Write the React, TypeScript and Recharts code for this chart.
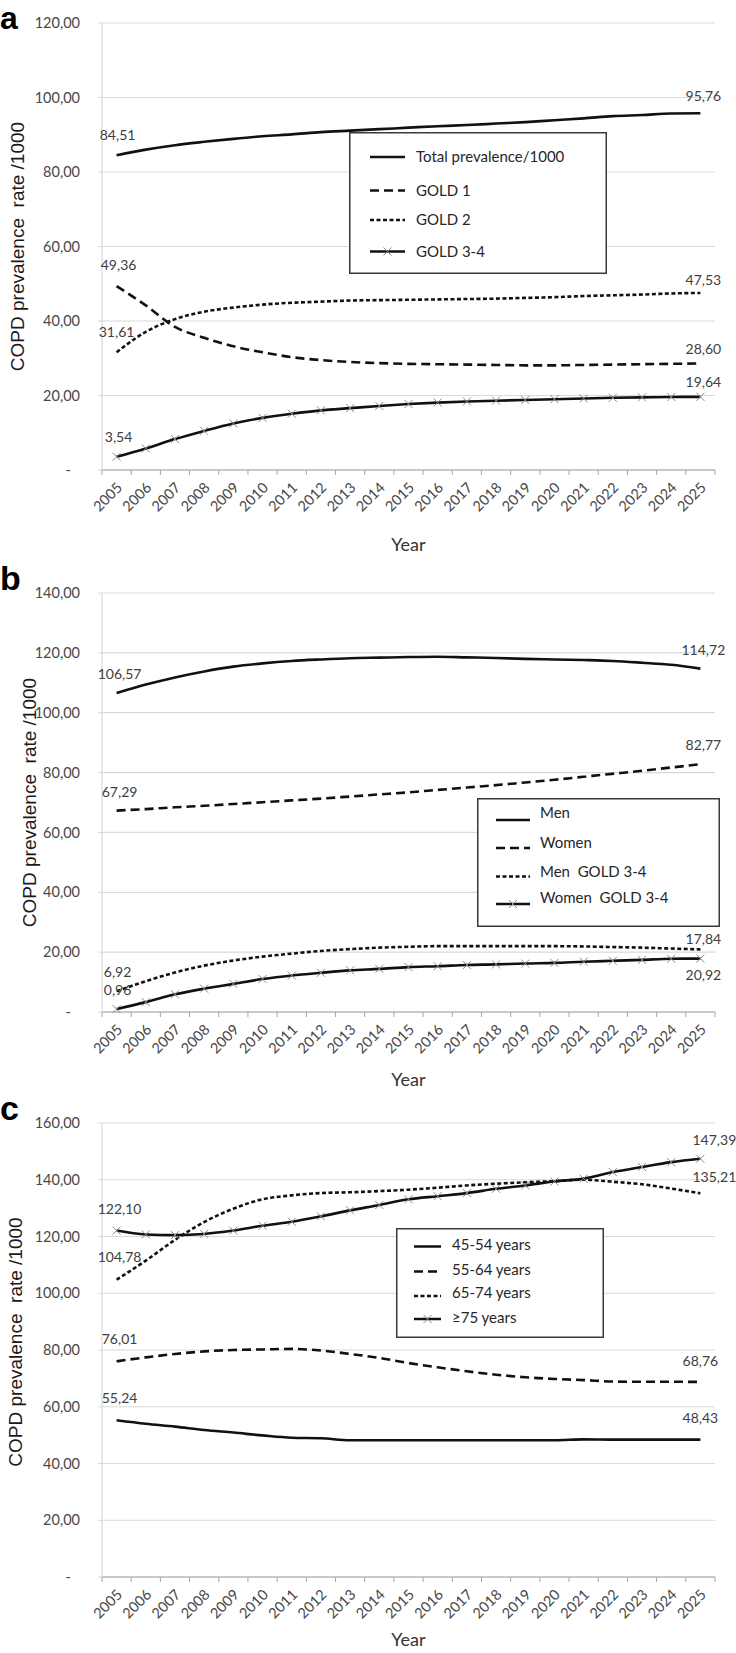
import React from 'react';
import { LineChart, Line, XAxis, YAxis, CartesianGrid, Legend, LabelList } from 'recharts';

// ---------- data ----------
const years = [2005, 2006, 2007, 2008, 2009, 2010, 2011, 2012, 2013, 2014, 2015, 2016, 2017, 2018, 2019, 2020, 2021, 2022, 2023, 2024, 2025];

// panel a
const totalPrevalence = [84.51, 86.0, 87.2, 88.1, 88.9, 89.6, 90.1, 90.7, 91.1, 91.5, 91.9, 92.3, 92.6, 93.0, 93.4, 93.9, 94.4, 95.0, 95.3, 95.7, 95.76];
const gold1 = [49.36, 44.2, 38.4, 35.5, 33.2, 31.6, 30.3, 29.5, 29.0, 28.7, 28.5, 28.4, 28.3, 28.2, 28.1, 28.1, 28.2, 28.3, 28.4, 28.5, 28.6];
const gold2 = [31.61, 37.1, 40.5, 42.5, 43.6, 44.4, 44.9, 45.2, 45.5, 45.6, 45.7, 45.8, 45.9, 46.0, 46.2, 46.4, 46.7, 46.9, 47.1, 47.4, 47.53];
const gold34 = [3.54, 5.8, 8.3, 10.5, 12.5, 14.0, 15.1, 16.0, 16.6, 17.2, 17.7, 18.1, 18.4, 18.6, 18.8, 19.0, 19.2, 19.4, 19.5, 19.6, 19.64];

// panel b
const men = [106.57, 109.4, 111.8, 113.8, 115.4, 116.5, 117.3, 117.8, 118.2, 118.4, 118.6, 118.7, 118.5, 118.3, 118.0, 117.8, 117.6, 117.3, 116.7, 116.0, 114.72];
const women = [67.29, 67.8, 68.4, 68.9, 69.5, 70.1, 70.7, 71.3, 72.0, 72.7, 73.4, 74.2, 75.0, 75.8, 76.7, 77.6, 78.6, 79.6, 80.6, 81.7, 82.77];
const menGold34 = [6.92, 10.3, 13.2, 15.5, 17.2, 18.5, 19.5, 20.4, 21.0, 21.5, 21.8, 22.0, 22.0, 22.0, 22.0, 22.0, 21.9, 21.7, 21.5, 21.2, 20.92];
const womenGold34 = [0.96, 3.3, 5.9, 7.8, 9.4, 11.0, 12.2, 13.1, 13.9, 14.4, 15.0, 15.3, 15.7, 15.9, 16.2, 16.4, 16.8, 17.1, 17.4, 17.8, 17.84];

// panel c
const age4554 = [55.24, 54.0, 53.0, 51.8, 50.9, 49.9, 49.1, 48.9, 48.2, 48.2, 48.2, 48.2, 48.2, 48.2, 48.2, 48.2, 48.5, 48.4, 48.4, 48.4, 48.43];
const age5564 = [76.01, 77.4, 78.6, 79.5, 80.0, 80.2, 80.4, 79.8, 78.6, 77.2, 75.4, 73.9, 72.5, 71.3, 70.4, 69.8, 69.4, 68.9, 68.8, 68.8, 68.76];
const age6574 = [104.78, 111.5, 118.8, 125.1, 129.8, 133.1, 134.5, 135.3, 135.6, 136.0, 136.5, 137.2, 138.0, 138.6, 139.1, 139.5, 140.0, 139.3, 138.4, 136.9, 135.21];
const age75 = [122.1, 120.7, 120.5, 120.9, 122.1, 123.8, 125.2, 127.1, 129.2, 131.1, 133.1, 134.2, 135.3, 136.8, 138.0, 139.4, 140.4, 142.7, 144.5, 146.2, 147.39];

// tick values
const yTicksA = [0, 20, 40, 60, 80, 100, 120];
const yTicksB = [0, 20, 40, 60, 80, 100, 120, 140];
const yTicksC = [0, 20, 40, 60, 80, 100, 120, 140, 160];
const yearBoundaries = [...years.map((y) => y - 0.5), years[years.length - 1] + 0.5];
const xTicks = [...yearBoundaries, ...years].sort((a, b) => a - b);

// ---------- styling ----------
const FONT = "Lato, 'Open Sans', sans-serif";
const TITLE_FONT = "'Liberation Sans', Arial, sans-serif";
const INK = '#111111';
const GRID = '#d9d9d9';
const LONG_DASH = '9 5';
const SHORT_DASH = '4 2.5';

const fmt = (v: number) => (v === 0 ? '-' : v.toFixed(2).replace('.', ','));

type Series = {
  key: string;
  name: string;
  values: number[];
  dash?: string;
  marker?: boolean;
  first: [number, number];
  last: [number, number];
};

const seriesA: Series[] = [
  { key: 'total', name: 'Total prevalence/1000', values: totalPrevalence, first: [1, -20], last: [3, -17] },
  { key: 'g1', name: 'GOLD 1', values: gold1, dash: LONG_DASH, first: [2, -21], last: [3, -14] },
  { key: 'g2', name: 'GOLD 2', values: gold2, dash: SHORT_DASH, first: [0, -20], last: [3, -13] },
  { key: 'g34', name: 'GOLD 3-4', values: gold34, marker: true, first: [2, -20], last: [3, -15] },
];
const seriesB: Series[] = [
  { key: 'men', name: 'Men', values: men, first: [3, -19], last: [3, -19] },
  { key: 'women', name: 'Women', values: women, dash: LONG_DASH, first: [3, -19], last: [3, -19] },
  { key: 'mg', name: 'Men  GOLD 3-4', values: menGold34, dash: SHORT_DASH, first: [1, -19], last: [3, 26] },
  { key: 'wg', name: 'Women  GOLD 3-4', values: womenGold34, marker: true, first: [1, -19], last: [3, -20] },
];
const seriesC: Series[] = [
  { key: 'a45', name: '45-54 years', values: age4554, first: [3, -22], last: [0, -21] },
  { key: 'a55', name: '55-64 years', values: age5564, dash: LONG_DASH, first: [3, -22], last: [0, -21] },
  { key: 'a65', name: '65-74 years', values: age6574, dash: SHORT_DASH, first: [3, -23], last: [14, -16] },
  { key: 'a75', name: '\u226575 years', values: age75, marker: true, first: [3, -21], last: [14, -19] },
];

const buildRows = (list: Series[]) =>
  years.map((year, i) => {
    const row: Record<string, number> = { year };
    list.forEach((s) => {
      row[s.key] = s.values[i];
    });
    return row;
  });

// ---------- small renderers ----------
const XMark = ({ cx, cy }: any) => {
  if (cx == null || cy == null) return null;
  const r = 4;
  return (
    <g>
      <line x1={cx - r} y1={cy - r} x2={cx + r} y2={cy + r} stroke="#8a8a8a" strokeWidth={1} />
      <line x1={cx - r} y1={cy + r} x2={cx + r} y2={cy - r} stroke="#8a8a8a" strokeWidth={1} />
    </g>
  );
};

const XTick = (props: any) => {
  const { x, y, payload } = props;
  const v = payload.value as number;
  if (v % 1 !== 0) {
    return <line x1={x} x2={x} y1={y} y2={y + 5} stroke="#a6a6a6" strokeWidth={1} />;
  }
  return (
    <text
      transform={`translate(${x + 3},${y + 15}) rotate(-45)`}
      textAnchor="end"
      dy="0.35em"
      fontFamily={FONT}
      fontSize={14.5}
      fill="#474747"
    >
      {v}
    </text>
  );
};

const YTick = (props: any) => {
  const { x, y, payload } = props;
  const v = payload.value as number;
  return (
    <text x={v === 0 ? x - 27 : x - 18} y={y} textAnchor="end" dy="0.35em" fontFamily={FONT} fontSize={14.5} fill="#474747">
      {fmt(v)}
    </text>
  );
};

const makeLabel = (s: Series) => (props: any) => {
  const n = s.values.length;
  const value = props.value as number;
  let index = props.index as number | undefined;
  if (index == null) index = value === s.values[0] ? 0 : value === s.values[n - 1] ? n - 1 : -1;
  if (index !== 0 && index !== n - 1) return null;
  const x = props.x ?? props.viewBox?.x;
  const y = props.y ?? props.viewBox?.y;
  if (x == null || y == null) return null;
  const [dx, dy] = index === 0 ? s.first : s.last;
  return (
    <text x={x + dx} y={y + dy} textAnchor="middle" dy="0.35em" fontFamily={FONT} fontSize={14} fill="#404040">
      {fmt(value)}
    </text>
  );
};

type LegendGeom = {
  left: number;
  top: number;
  w: number;
  h: number;
  sx1: number;
  sx2: number;
  tx: number;
  lineY: number[];
  textY: number[];
};

const LegendBox = ({ series, g }: { series: Series[]; g: LegendGeom }) => (
  <svg width={g.w} height={g.h} style={{ display: 'block' }}>
    <rect x={0.75} y={0.75} width={g.w - 1.5} height={g.h - 1.5} fill="#ffffff" stroke="#3a3a3a" strokeWidth={1.5} />
    {series.map((s, i) => (
      <g key={s.key}>
        <line x1={g.sx1} x2={g.sx2} y1={g.lineY[i]} y2={g.lineY[i]} stroke={INK} strokeWidth={2.5} strokeDasharray={s.dash} />
        {s.marker && <XMark cx={(g.sx1 + g.sx2) / 2} cy={g.lineY[i]} />}
        <text x={g.tx} y={g.textY[i]} dy="0.35em" fontFamily={FONT} fontSize={15} fill="#262626" style={{ whiteSpace: 'pre' }}>
          {s.name}
        </text>
      </g>
    ))}
  </svg>
);

type PanelProps = {
  top: number;
  height: number;
  marginTop: number;
  xHeight: number;
  yMax: number;
  yTicks: number[];
  series: Series[];
  legend: LegendGeom;
  yearOffset: number;
  titleX: number;
  titleDy: number;
};

const Panel = (p: PanelProps) => {
  const data = buildRows(p.series);
  const titleContent = (lp: any) => {
    const vb = lp.viewBox || {};
    const cy = (vb.y ?? 0) + (vb.height ?? 0) / 2 + p.titleDy;
    return (
      <text
        transform={`translate(${p.titleX},${cy}) rotate(-90)`}
        textAnchor="middle"
        fontFamily={TITLE_FONT}
        fontSize={19}
        fill="#1a1a1a"
        style={{ whiteSpace: 'pre' }}
      >
        {'COPD prevalence  rate /1000'}
      </text>
    );
  };
  return (
    <div style={{ position: 'absolute', left: 0, top: p.top, width: 736, height: p.height }}>
      <LineChart width={736} height={p.height} data={data} margin={{ top: p.marginTop, right: 21, left: 0, bottom: 0 }}>
        <CartesianGrid horizontal vertical={false} stroke={GRID} strokeWidth={1.2} />
        <XAxis
          type="number"
          dataKey="year"
          domain={[yearBoundaries[0], yearBoundaries[yearBoundaries.length - 1]]}
          ticks={xTicks}
          interval={0}
          tickLine={false}
          tickSize={0}
          tickMargin={0}
          axisLine={{ stroke: '#a6a6a6', strokeWidth: 1.2 }}
          tick={<XTick />}
          height={p.xHeight}
          label={{ value: 'Year', position: 'insideBottom', offset: p.yearOffset, fontFamily: FONT, fontSize: 18, fill: '#333333' }}
        />
        <YAxis
          type="number"
          domain={[0, p.yMax]}
          ticks={p.yTicks}
          interval={0}
          width={102}
          tickSize={4}
          tickMargin={0}
          tickLine={{ stroke: GRID }}
          axisLine={{ stroke: GRID, strokeWidth: 1.2 }}
          tick={<YTick />}
          label={{ content: titleContent }}
        />
        <Legend
          layout="horizontal"
          verticalAlign="middle"
          align="center"
          wrapperStyle={{ left: p.legend.left, top: p.legend.top, width: p.legend.w, height: p.legend.h }}
          content={() => <LegendBox series={p.series} g={p.legend} />}
        />
        {p.series.map((s) => (
          <Line
            key={s.key}
            type="monotone"
            dataKey={s.key}
            name={s.name}
            stroke={INK}
            strokeWidth={2.6}
            strokeDasharray={s.dash}
            dot={s.marker ? (dp: any) => <XMark key={`m-${s.key}-${dp.index}`} {...dp} /> : false}
            activeDot={false}
            isAnimationActive={false}
          >
            <LabelList dataKey={s.key} content={makeLabel(s)} />
          </Line>
        ))}
      </LineChart>
    </div>
  );
};

const letterStyle = (top: number, size: number): React.CSSProperties => ({
  position: 'absolute',
  left: 0,
  top,
  fontFamily: TITLE_FONT,
  fontWeight: 'bold',
  fontSize: size,
  lineHeight: 'normal',
  color: '#000',
});

export default function App() {
  return (
    <div style={{ position: 'absolute', left: 0, top: 0, width: 736, height: 1653, background: '#ffffff', overflow: 'hidden' }}>
      <Panel
        top={0}
        height={560}
        marginTop={23}
        xHeight={90}
        yMax={120}
        yTicks={yTicksA}
        series={seriesA}
        legend={{ left: 349, top: 132, w: 258, h: 142, sx1: 21, sx2: 56, tx: 67, lineY: [25, 58.5, 88, 119.5], textY: [25, 58.5, 88, 119.5] }}
        yearOffset={9}
        titleX={23.5}
        titleDy={0}
      />
      <Panel
        top={560}
        height={540}
        marginTop={33}
        xHeight={88}
        yMax={140}
        yTicks={yTicksB}
        series={seriesB}
        legend={{ left: 477, top: 238, w: 243, h: 129, sx1: 19, sx2: 53, tx: 63, lineY: [22, 50, 78.5, 106], textY: [15, 44.5, 73.5, 100] }}
        yearOffset={14}
        titleX={35.5}
        titleDy={0}
      />
      <Panel
        top={1100}
        height={553}
        marginTop={23}
        xHeight={76}
        yMax={160}
        yTicks={yTicksC}
        series={seriesC}
        legend={{ left: 396, top: 128, w: 208, h: 110, sx1: 18, sx2: 45, tx: 56, lineY: [18.5, 43.5, 68, 91], textY: [17, 42, 65, 90] }}
        yearOffset={7}
        titleX={22}
        titleDy={-8}
      />
      <div style={letterStyle(0, 32)}>a</div>
      <div style={letterStyle(559, 34)}>b</div>
      <div style={letterStyle(1089, 34)}>c</div>
    </div>
  );
}
